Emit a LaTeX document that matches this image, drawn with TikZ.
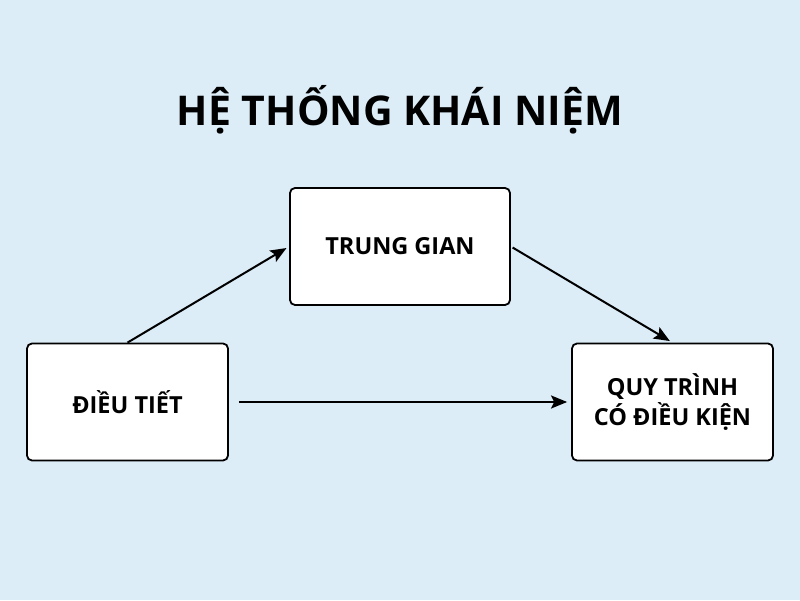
\documentclass[tikz,border=0pt]{standalone}
\usepackage{fontspec}
\setmainfont{Open Sans}
\usetikzlibrary{arrows.meta}
\definecolor{bgblue}{RGB}{220,237,247}

\begin{document}
\begin{tikzpicture}[x=1pt,y=1pt,
  box/.style={draw=black,fill=white,line width=1.8pt,rounded corners=5pt,
    minimum width=#1,minimum height=117pt,align=center,
    font=\fontsize{23.5}{30}\selectfont\bfseries},
  link/.style={line width=2pt,-{Stealth[length=16pt,width=13pt,inset=3pt]}}]
\fill[bgblue] (0,0) rectangle (800,600);
\useasboundingbox (0,0) rectangle (800,600);
\node[font=\fontsize{41}{46}\selectfont\bfseries] (title) at (400,490) {HỆ THỐNG KHÁI NIỆM};
\node[box=220pt] (trung) at (400,353.5) {TRUNG GIAN};
\node[box=201pt] (dieu) at (127.5,198) {ĐIỀU TIẾT};
\node[box=201pt] (quy) at (672.5,198) {QUY TRÌNH\\CÓ ĐIỀU KIỆN};
\draw[link,shorten >=3pt] (dieu.north) -- (trung.west);
\draw[link,shorten <=2pt,shorten >=3pt] (trung.east) -- (quy.north);
\draw[link,shorten <=10pt,shorten >=4pt] (dieu.east) -- (quy.west);
\end{tikzpicture}
\end{document}
